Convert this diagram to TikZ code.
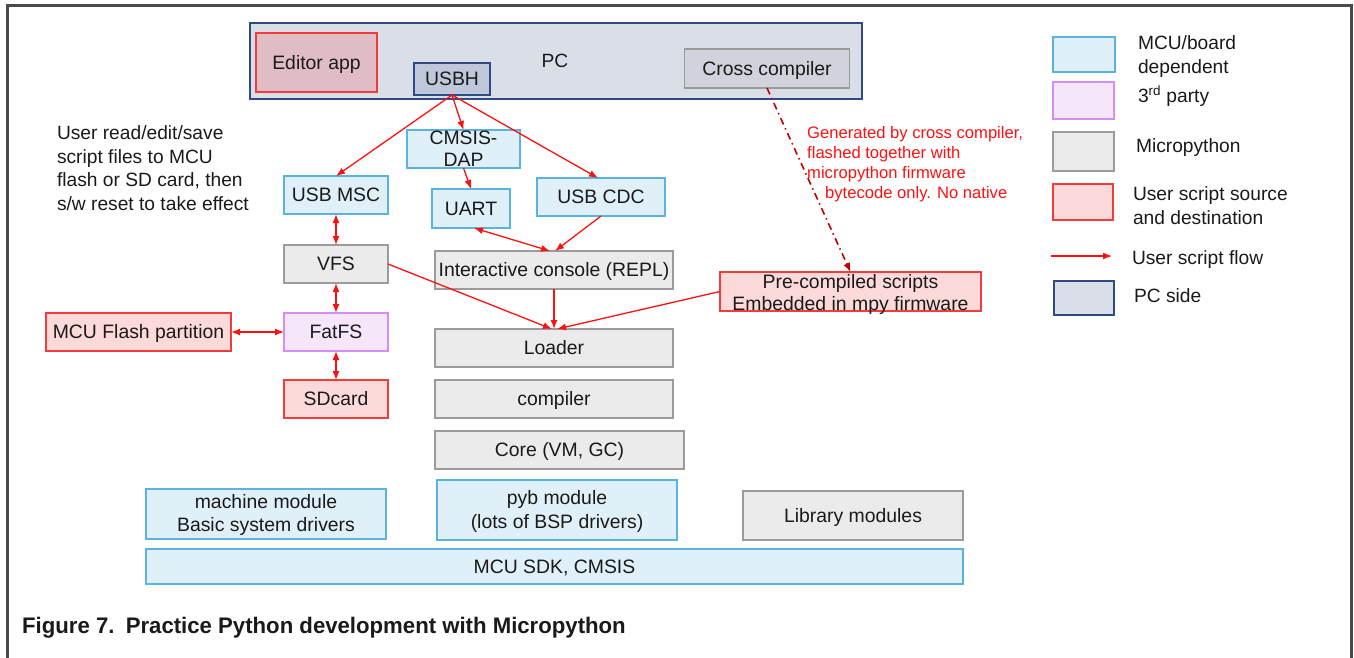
\documentclass[tikz,border=0pt]{standalone}
\usepackage{fontspec}
\setmainfont{Liberation Sans}
\newfontfamily\capfont[FakeStretch=0.985]{Liberation Sans}
\usetikzlibrary{arrows.meta}
\definecolor{bfill}{HTML}{DFF0F8}
\definecolor{bdraw}{HTML}{5AB4DE}
\definecolor{gfill}{HTML}{EBEBEB}
\definecolor{gdraw}{HTML}{9B9B9B}
\definecolor{pfill}{HTML}{F6E6FA}
\definecolor{pdraw}{HTML}{D58CF3}
\definecolor{rfill}{HTML}{FCDADA}
\definecolor{rdraw}{HTML}{F23C3C}
\definecolor{pcfill}{HTML}{DADEE7}
\definecolor{pcdraw}{HTML}{2E4B86}
\definecolor{usbhfill}{HTML}{BFC7DA}
\definecolor{ccfill}{HTML}{D0D3DB}
\definecolor{edfill}{HTML}{E0BDC5}
\definecolor{flowred}{HTML}{FF1010}
\definecolor{darkred}{HTML}{C00000}
\definecolor{framegray}{HTML}{4A4A4A}
\definecolor{txt}{HTML}{1A1A1A}
% two centred lines, last baseline placed #1 above the node centre, no height of its own
\newcommand{\twolines}[3]{\raisebox{#1}[0pt][0pt]{\begin{tabular}[b]{@{}c@{}}#2\\#3\end{tabular}}}
\tikzset{
  box/.style={draw, line width=1.6pt, inner sep=0pt, outer sep=0pt, align=center, text=txt,
    font=\fontsize{19.4}{22}\selectfont},
  one/.style={text height=13.9pt, text depth=0pt},
  bluebox/.style={box, draw=bdraw, fill=bfill},
  graybox/.style={box, draw=gdraw, fill=gfill},
  purplebox/.style={box, draw=pdraw, fill=pfill},
  redbox/.style={box, draw=rdraw, fill=rfill},
  pcbox/.style={box, draw=pcdraw, fill=pcfill},
  sz/.style 2 args={minimum width=#1pt, minimum height=#2pt},
  flow/.style={draw=flowred, line width=1.3pt, -{Latex[length=9pt,width=7pt]}},
  flowboth/.style={draw=flowred, line width=1.3pt, {Latex[length=9pt,width=7pt]}-{Latex[length=9pt,width=7pt]}},
  plain/.style={inner sep=0pt, outer sep=0pt, text=txt, font=\fontsize{19.2}{23.7}\selectfont, align=left},
}
\begin{document}
\begin{tikzpicture}[x=1pt,y=-1pt]
\useasboundingbox (0,0) rectangle (1354,657);
% frame
\draw[framegray, line width=3pt] (7,670) -- (7,5) -- (1351,5) -- (1351,670);

% PC area
\node[pcbox, sz={612}{76}] (pc) at (556,61) {};
\node[plain, anchor=center, one] (pclabel) at (555,61) {PC};
\node[box, one, draw=rdraw, fill=edfill, sz={121}{59}] (editor) at (316.5,62.2) {Editor app};
\node[box, one, draw=pcdraw, fill=usbhfill, sz={76}{32}] (usbh) at (452,79) {USBH};
\node[box, one, draw=gdraw, fill=ccfill, sz={165}{39}] (cross) at (767,68.5) {Cross compiler};

% MCU side
\node[bluebox, sz={113}{38}] (cmsis) at (463.5,149) {\twolines{-17.95pt}{CMSIS-}{DAP}};
\node[bluebox, one, sz={104}{38}] (usbmsc) at (336,195) {USB MSC};
\node[bluebox, one, sz={78}{39}] (uart) at (471,208.5) {UART};
\node[bluebox, one, sz={128}{38}] (usbcdc) at (601,197) {USB CDC};
\node[graybox, one, sz={104}{38}] (vfs) at (336,264) {VFS};
\node[graybox, one, sz={238}{38}] (repl) at (554,270) {Interactive console (REPL)};
\node[graybox, one, sz={238}{38}] (loader) at (554,348) {Loader};
\node[graybox, one, sz={238}{38}] (compiler) at (554,399) {compiler};
\node[graybox, one, sz={249}{38}] (core) at (559.5,450) {Core (VM, GC)};
\node[purplebox, one, sz={104}{38}] (fatfs) at (336,332) {FatFS};
\node[redbox, one, sz={185}{38}] (flash) at (138.5,332) {MCU Flash partition};
\node[redbox, one, sz={104}{38}] (sdcard) at (336,399) {SDcard};
\node[redbox, sz={261}{39}] (pre) at (850.5,291.5) {\twolines{-19.45pt}{Pre-compiled scripts}{Embedded in mpy firmware}};
\node[bluebox, sz={240}{50}, font=\fontsize{19.4}{23}\selectfont] (machine) at (266,514) {\twolines{-17.95pt}{machine module}{Basic system drivers}};
\node[bluebox, sz={240}{60}, font=\fontsize{19.4}{24}\selectfont] (pyb) at (557,510) {\twolines{-18.95pt}{pyb module}{(lots of BSP drivers)}};
\node[graybox, one, sz={220}{49}] (lib) at (853,515.5) {Library modules};
\node[bluebox, one, sz={817}{35}] (sdk) at (554.5,566.5) {MCU SDK, CMSIS};

% texts
\node[plain, anchor=north west] (usertext) at (57,125.5) {User read/edit/save\\script files to MCU\\flash or SD card, then\\s/w reset to take effect};
\node[inner sep=0pt, anchor=north west, text=flowred, align=left, font=\fontsize{16.6}{20}\selectfont] (note) at (807,126)
  {Generated by cross compiler,\\flashed together with\\micropython firmware\\\hspace*{18pt}bytecode only. No native};

% arrows
\draw[flow] (usbh.south) -- (usbmsc.north);
\draw[flow] (usbh.south) -- (cmsis.north);
\draw[flow] (usbh.south) -- ([xshift=-3pt]usbcdc.north);
\draw[flow] (cmsis.south) -- (uart.north);
\draw[flowboth] ([xshift=3pt]uart.south) -- ([xshift=-4pt]repl.north);
\draw[flow] (usbcdc.south) -- ([xshift=1pt]repl.north);
\draw[flowboth] (usbmsc.south) -- (vfs.north);
\draw[flowboth] (vfs.south) -- (fatfs.north);
\draw[flowboth] (fatfs.south) -- (sdcard.north);
\draw[flowboth] (flash.east) -- (fatfs.west);
\draw[flow] (vfs.east) -- ([xshift=-2pt]loader.north);
\draw[flow] (repl.south) -- (loader.north);
\draw[flow] (pre.west) -- ([xshift=3pt]loader.north);
\draw[draw=darkred, line width=1.6pt, dash pattern=on 7pt off 4pt on 1.5pt off 4pt, -{Latex[length=9pt,width=7pt]}] (cross.south) -- (pre.north);

% legend
\node[bluebox, sz={62}{35}] (lg1) at (1084,54.5) {};
\node[plain, anchor=north west] (lt1) at (1138,35.5) {MCU/board\\dependent};
\node[purplebox, sz={61}{37}] (lg2) at (1083.5,100.5) {};
\node[plain, anchor=west, one] (lt2) at (1138,96) {3\textsuperscript{rd} party};
\node[graybox, sz={61}{39}] (lg3) at (1083.5,151.5) {};
\node[plain, anchor=west, one] (lt3) at (1136,146) {Micropython};
\node[redbox, sz={60}{36}] (lg4) at (1083,202) {};
\node[plain, anchor=north west] (lt4) at (1133,187) {User script source\\and destination};
\coordinate (la1) at (1051,256);
\coordinate (la2) at (1112,256);
\draw[flow] (la1) -- (la2);
\node[plain, anchor=west, one] (lt5) at (1132,258) {User script flow};
\node[pcbox, sz={60}{34}] (lg6) at (1084,298) {};
\node[plain, anchor=west, one] (lt6) at (1134,296) {PC side};

% caption
\node[inner sep=0pt, anchor=west, text=txt, font=\capfont\bfseries\fontsize{22.5}{26}\selectfont] (caption) at (22,628)
  {Figure 7.\hspace{0.5em}Practice Python development with Micropython};
\end{tikzpicture}
\end{document}
